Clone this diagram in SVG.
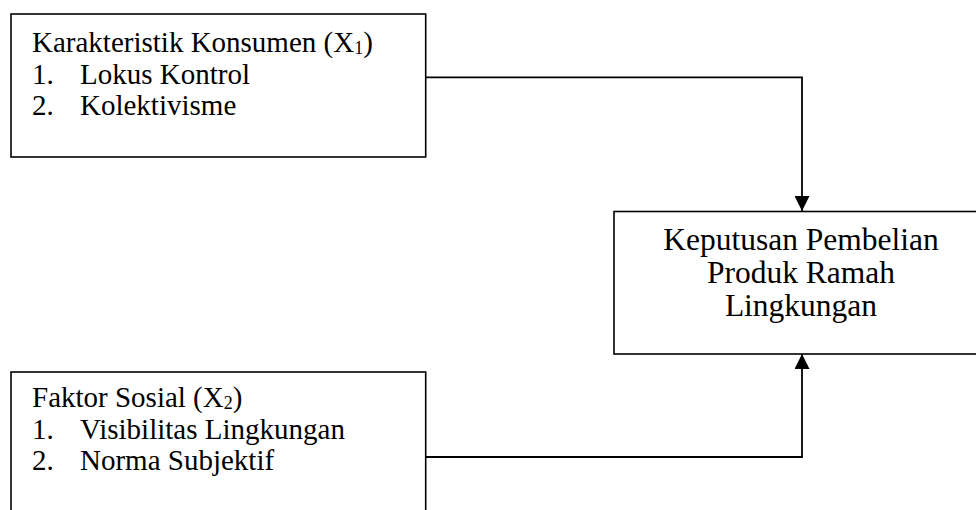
<svg xmlns="http://www.w3.org/2000/svg" width="976" height="510" viewBox="0 0 976 510">
<style>
.box{fill:#fff;stroke:#000;stroke-width:1.6}
text{font-family:"Liberation Serif","Times New Roman",Times,serif;fill:#000}
.l{font-size:29px}
.r{font-size:31.5px;text-anchor:middle}
.c{fill:none;stroke:#000;stroke-width:1.8}
</style>
<defs>
<marker id="ah" markerUnits="userSpaceOnUse" markerWidth="15" markerHeight="15" refX="15" refY="7.5" orient="auto">
<path d="M0,0 L15,7.5 L0,15 z" fill="#000"/>
</marker>
</defs>
<g id="connectors">
<path class="c" d="M425.7,77.3 H802 V211" marker-end="url(#ah)"/>
<path class="c" d="M425.7,457 H802 V354" marker-end="url(#ah)"/>
</g>
<g id="x1">
<rect class="box" x="11" y="14" width="414.7" height="143"/>
<text class="l" x="32" y="51.7">Karakteristik Konsumen (X<tspan font-size="18" dy="2.5">1</tspan><tspan dy="-2.5">)</tspan></text>
<text class="l" x="32" y="83.5">1.</text>
<text class="l" x="80" y="83.5">Lokus Kontrol</text>
<text class="l" x="32" y="115">2.</text>
<text class="l" x="80" y="115">Kolektivisme</text>
</g>
<g id="x2">
<rect class="box" x="11" y="372" width="414.7" height="150"/>
<text class="l" x="32" y="406.7">Faktor Sosial (X<tspan font-size="18" dy="2.5">2</tspan><tspan dy="-2.5">)</tspan></text>
<text class="l" x="32" y="438.5">1.</text>
<text class="l" x="80" y="438.5">Visibilitas Lingkungan</text>
<text class="l" x="32" y="470">2.</text>
<text class="l" x="80" y="470">Norma Subjektif</text>
</g>
<g id="y">
<rect class="box" x="614" y="211.5" width="380" height="142.5"/>
<text class="r" x="801" y="250">Keputusan Pembelian</text>
<text class="r" x="801" y="283">Produk Ramah</text>
<text class="r" x="801" y="315.5">Lingkungan</text>
</g>
</svg>
